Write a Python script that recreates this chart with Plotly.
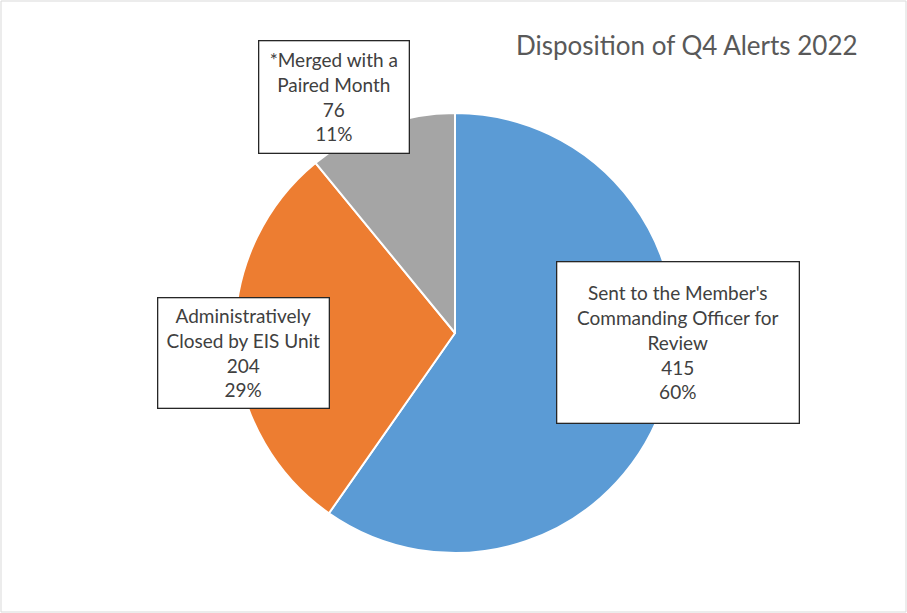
import plotly.graph_objects as go

categorias = [
    "Sent to the Member's<br>Commanding Officer for<br>Review",
    "Administratively<br>Closed by EIS Unit",
    "*Merged with a<br>Paired Month",
]
valores = [415, 204, 76]
cores = ['#5B9BD5', '#ED7D31', '#A5A5A5']

W, H = 907, 613

fig = go.Figure(go.Pie(
    labels=categorias,
    values=valores,
    sort=False,
    direction='clockwise',
    rotation=0,
    marker=dict(colors=cores, line=dict(color='white', width=2)),
    textinfo='none',
    hoverinfo='label+value+percent',
    domain=dict(x=[(455 - 220) / W, (455 + 220) / W],
                y=[(H - 333 - 220) / H, (H - 333 + 220) / H]),
    showlegend=False,
))

total = sum(valores)
# caixas (centro x, centro y, largura, altura) em pixels
caixas = [(678, 342, 244, 163), (244, 353, 173, 112), (334, 97, 152, 114)]
for cat, val, cx in zip(categorias, valores, caixas):
    x, y, w, h = cx
    pct = round(val / total * 100)
    fig.add_annotation(
        x=x / W, y=1 - y / H, xref='paper', yref='paper',
        xanchor='center', yanchor='middle',
        text=f'{cat}<br>{val}<br>{pct}%',
        showarrow=False,
        font=dict(family='Lato', size=19, color='#404040'),
        bgcolor='white', bordercolor='#262626', borderwidth=1.3,
        borderpad=0, width=w - 3, height=h - 3, align='center',
    )

fig.add_annotation(
    x=860 / W, y=1 - 45 / H, xref='paper', yref='paper',
    xanchor='right', yanchor='middle', showarrow=False,
    text='Disposition of Q4 Alerts 2022',
    font=dict(family='Lato', size=26, color='#595959'),
)

fig.add_shape(type='rect', xref='paper', yref='paper',
              x0=1 / W, x1=1 - 1 / W, y0=1 / H, y1=1 - 1 / H,
              line=dict(color='#D9D9D9', width=1))

fig.update_layout(
    width=W, height=H,
    margin=dict(l=0, r=0, t=0, b=0),
    paper_bgcolor='white',
    plot_bgcolor='white',
)

# tira a margem padrão do body para a figura ocupar a janela toda
fig.write_html('out.html', config={'displayModeBar': False},
               post_script="document.body.style.margin='0';")
